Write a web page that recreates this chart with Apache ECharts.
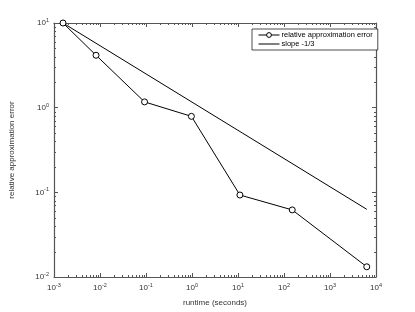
<!DOCTYPE html>
<html><head><meta charset="utf-8">
<script src="https://cdn.jsdelivr.net/npm/echarts@6/dist/echarts.min.js"></script>
<style>html,body{margin:0;padding:0;background:#fff}#c{width:415px;height:312px}</style>
</head><body><div id="c"></div>
<script>
const runtime = [0.00157, 0.0082, 0.093, 0.97, 11, 151, 6300];
const relErr  = [10, 4.16, 1.17, 0.79, 0.093, 0.062, 0.0132];
const slopeX  = [0.00157, 6300];
const slopeY  = [10, 0.063];
const xTicks  = [-3, -2, -1, 0, 1, 2, 3, 4];
const yTicks  = [-2, -1, 0, 1];
const seriesNames = ['relative approximation error', 'slope -1/3'];

const FONT = 'Liberation Sans';
const AX = '#555';
const TXT = '#333';
const rich = { b: {fontSize: 8, fontFamily: FONT, color: TXT}, s: {fontSize: 5.5, fontFamily: FONT, color: TXT, verticalAlign: 'top', padding: [0,0,5,0]} };
const fmt = v => { const e = Math.round(Math.log10(v)); return '{b|10}{s|' + e + '}'; };

function axisCommon(show){
  return {
    type: 'log', logBase: 10,
    axisLine: {show: true, lineStyle: {color: AX, width: 1.2}},
    axisTick: {show: true, inside: true, length: 4, lineStyle: {color: AX, width: 1}},
    splitLine: {show: false},
    axisLabel: {show: show, formatter: fmt, rich: rich, margin: 5},
  };
}
const chart = echarts.init(document.getElementById('c'), null, {renderer: 'canvas'});
const opt = {
  animation: false,
  grid: {left: 54, right: 39, top: 23, bottom: 35, containLabel: false},
  xAxis: [
    Object.assign(axisCommon(true), {position: 'bottom', min: Math.pow(10, xTicks[0]), max: Math.pow(10, xTicks[xTicks.length-1]),
      name: 'runtime (seconds)', nameLocation: 'middle', nameGap: 22, nameTextStyle: {fontSize: 8, fontFamily: FONT, color: TXT}}),
    Object.assign(axisCommon(false), {position: 'top', min: Math.pow(10, xTicks[0]), max: Math.pow(10, xTicks[xTicks.length-1])})
  ],
  yAxis: [
    Object.assign(axisCommon(true), {position: 'left', min: Math.pow(10, yTicks[0]), max: Math.pow(10, yTicks[yTicks.length-1]),
      name: 'relative approximation error', nameLocation: 'middle', nameGap: 38, nameTextStyle: {fontSize: 8, fontFamily: FONT, color: TXT}}),
    Object.assign(axisCommon(false), {position: 'right', min: Math.pow(10, yTicks[0]), max: Math.pow(10, yTicks[yTicks.length-1])})
  ],
  legend: {
    show: true, orient: 'vertical', left: 252, top: 29, itemGap: 1, itemWidth: 21, itemHeight: 6,
    padding: [2, 5, 2, 6], borderColor: '#000', borderWidth: 0.7, borderRadius: 0, backgroundColor: '#fff',
    lineStyle: {width: 1, color: '#000'},
    textStyle: {fontSize: 7.5, fontFamily: FONT, color: '#000', padding: [0,0,0,-3]},
    data: [
      {name: seriesNames[0], itemStyle: {color: '#fff', borderColor: '#000', borderWidth: 1}},
      {name: seriesNames[1], itemStyle: {opacity: 0}}
    ]
  },
  series: [
    {name: seriesNames[0], type: 'line', xAxisIndex: 0, yAxisIndex: 0,
      data: runtime.map((x,i)=>[x, relErr[i]]), symbol: 'circle', symbolSize: 6,
      lineStyle: {color: '#000', width: 1}, itemStyle: {color: '#fff', borderColor: '#000', borderWidth: 1}},
    {name: seriesNames[1], type: 'line', xAxisIndex: 0, yAxisIndex: 0,
      data: slopeX.map((x,i)=>[x, slopeY[i]]), symbol: 'none', lineStyle: {color: '#000', width: 1}, itemStyle: {color: '#000'}}
  ]
};
chart.setOption(opt);

// minor ticks at 2..9 x 10^k via the library's scales
const g = [];
const x0 = chart.convertToPixel({xAxisIndex: 0}, Math.pow(10, xTicks[0]));
const x1 = chart.convertToPixel({xAxisIndex: 0}, Math.pow(10, xTicks[xTicks.length-1]));
const yB = chart.convertToPixel({yAxisIndex: 0}, Math.pow(10, yTicks[0]));
const yT = chart.convertToPixel({yAxisIndex: 0}, Math.pow(10, yTicks[yTicks.length-1]));
const ml = 2;
const ls = {stroke: AX, lineWidth: 1};
for (let k = xTicks[0]; k < xTicks[xTicks.length-1]; k++) {
  for (let m = 2; m <= 9; m++) {
    const px = Math.round(chart.convertToPixel({xAxisIndex: 0}, m * Math.pow(10, k))) + 0.5;
    g.push({type: 'line', shape: {x1: px, y1: yB, x2: px, y2: yB - ml}, style: ls, silent: true});
    g.push({type: 'line', shape: {x1: px, y1: yT, x2: px, y2: yT + ml}, style: ls, silent: true});
  }
}
for (let k = yTicks[0]; k < yTicks[yTicks.length-1]; k++) {
  for (let m = 2; m <= 9; m++) {
    const py = Math.round(chart.convertToPixel({yAxisIndex: 0}, m * Math.pow(10, k))) + 0.5;
    g.push({type: 'line', shape: {x1: x0, y1: py, x2: x0 + ml, y2: py}, style: ls, silent: true});
    g.push({type: 'line', shape: {x1: x1, y1: py, x2: x1 - ml, y2: py}, style: ls, silent: true});
  }
}
chart.setOption({graphic: g});
</script></body></html>
